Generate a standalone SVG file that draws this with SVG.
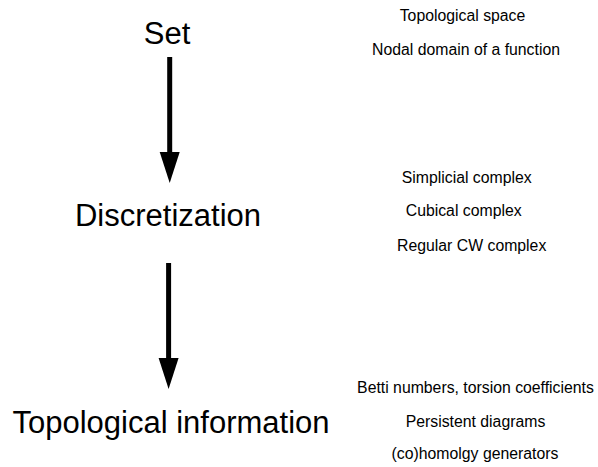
<svg xmlns="http://www.w3.org/2000/svg" width="598" height="467" viewBox="0 0 598 467">
<style>
  .big { font-family: "Liberation Sans", Arial, sans-serif; font-size: 31px; fill: #000; text-anchor: middle; }
  .small { font-family: "Liberation Sans", Arial, sans-serif; font-size: 15.8px; fill: #000; text-anchor: middle; }
  .arrow { stroke: #000; stroke-width: 5; fill: none; marker-end: url(#head); }
</style>
<defs>
  <marker id="head" markerUnits="userSpaceOnUse" viewBox="0 -11 32 22" refX="0" refY="0" markerWidth="32" markerHeight="22" orient="auto">
    <path d="M0,-10 L31,0 L0,10 Z" fill="#000"/>
  </marker>
</defs>
<rect width="598" height="467" fill="#fff"/>
<g id="connectors">
  <line class="arrow" x1="169.7" y1="57" x2="169.7" y2="152"/>
  <line class="arrow" x1="168.6" y1="263" x2="168.6" y2="358"/>
</g>
<g id="node-set">
  <text class="big" x="167" y="44">Set</text>
</g>
<g id="node-discretization">
  <text class="big" x="168" y="226">Discretization</text>
</g>
<g id="node-topological-information">
  <text class="big" x="171" y="433">Topological information</text>
</g>
<g id="notes-set">
  <text class="small" x="462.5" y="21">Topological space</text>
  <text class="small" x="466" y="55">Nodal domain of a function</text>
</g>
<g id="notes-discretization">
  <text class="small" x="466.7" y="183">Simplicial complex</text>
  <text class="small" x="463.7" y="216">Cubical complex</text>
  <text class="small" x="471.7" y="251">Regular CW complex</text>
</g>
<g id="notes-topological-information">
  <text class="small" x="475.5" y="393">Betti numbers, torsion coefficients</text>
  <text class="small" x="475.5" y="427">Persistent diagrams</text>
  <text class="small" x="475" y="459">(co)homolgy generators</text>
</g>
</svg>
